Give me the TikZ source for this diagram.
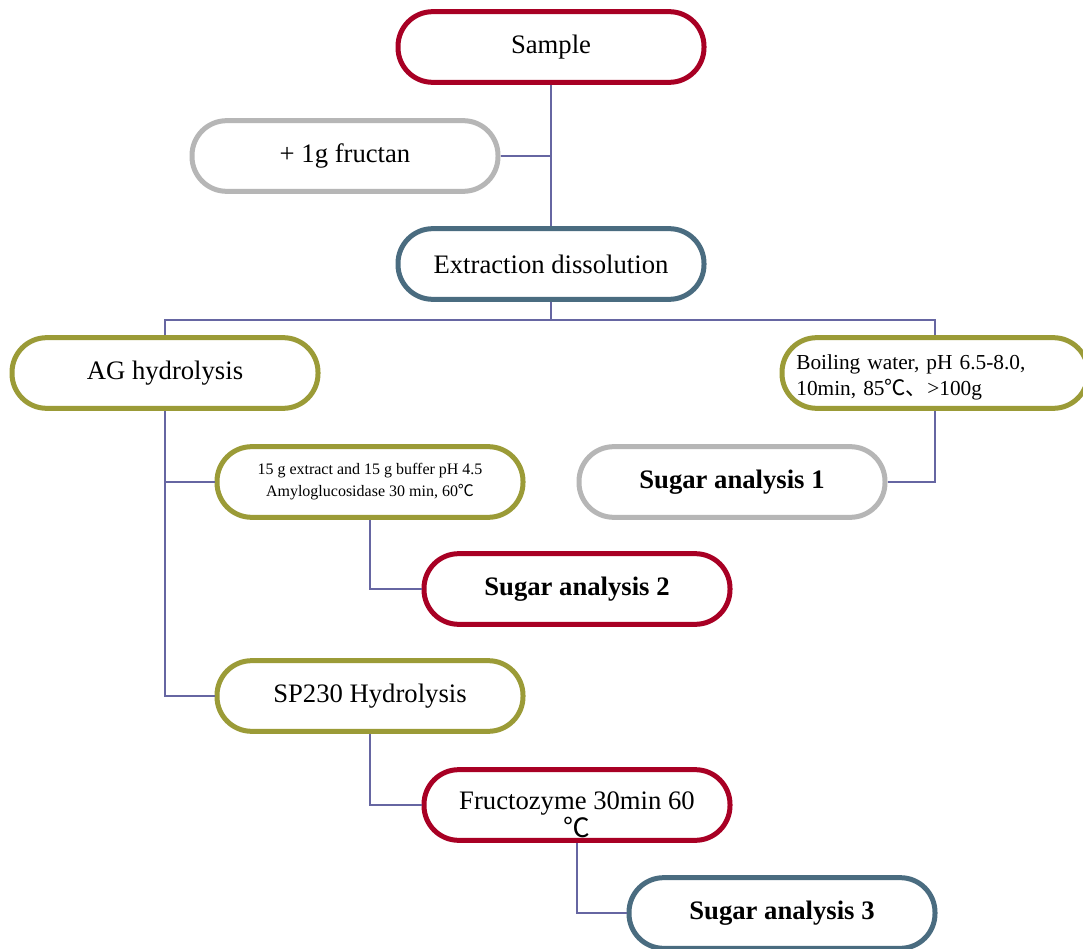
\documentclass[tikz,border=0pt]{standalone}
\usepackage{fontspec}
\setmainfont{Liberation Serif}
\newfontfamily\cjk{Noto Sans CJK SC}
\definecolor{cred}{RGB}{168,0,36}
\definecolor{cgray}{RGB}{182,182,182}
\definecolor{cteal}{RGB}{74,108,128}
\definecolor{colive}{RGB}{155,155,55}
\definecolor{cline}{RGB}{102,102,162}

\begin{document}
\begin{tikzpicture}[x=0.75pt,y=-0.75pt,
    pill/.style={draw,rectangle,rounded corners=26pt,line width=3.75pt,fill=white,
        minimum width=229.5pt,minimum height=53pt,inner sep=2pt,
        font=\fontsize{20}{26}\selectfont},
    link/.style={draw=cline,line width=1.1pt}]
    \useasboundingbox (0,0) rectangle (1083,949);
    \clip (0,0) rectangle (1083,949);
    % steps
    \node(smp) [pill,draw=cred] at (551,47) {Sample};
    \node(frc) [pill,draw=cgray] at (345,156) {+ 1g fructan};
    \node(ext) [pill,draw=cteal] at (551,264) {Extraction dissolution};
    \node(agh) [pill,draw=colive] at (165,373) {AG hydrolysis};
    \node(boil) [pill,draw=colive,text width=208pt,align=left,
        font=\fontsize{16}{19.5}\selectfont] at (935,373)
        {\raisebox{-7.5pt}[0pt][0pt]{\begin{tabular}{@{}l@{}}Boiling water, pH 6.5-8.0,\\
        10min, 85{\cjk ℃、}>100g\end{tabular}}};
    \node(ag1) [pill,draw=colive,align=center,
        font=\fontsize{12}{16.5}\selectfont] at (370,482)
        {15 g extract and 15 g buffer pH 4.5\\Amyloglucosidase 30 min, 60{\cjk ℃}};
    \node(su1) [pill,draw=cgray,font=\fontsize{20}{26}\selectfont\bfseries] at (732,482) {Sugar analysis 1};
    \node(su2) [pill,draw=cred,font=\fontsize{20}{26}\selectfont\bfseries] at (577,589) {Sugar analysis 2};
    \node(sp) [pill,draw=colive] at (370,696) {SP230 Hydrolysis};
    \node(fz) [pill,draw=cred,font=\fontsize{20}{19.5}\selectfont] at (577,805)
        {\raisebox{-15pt}[0pt][0pt]{\begin{tabular}{@{}c@{}}Fructozyme 30min 60\\{\cjk ℃}\end{tabular}}};
    \node(su3) [pill,draw=cteal,font=\fontsize{20}{26}\selectfont\bfseries] at (782,913) {Sugar analysis 3};
    % connectors
    \coordinate (hub) at (551,320);
    \draw[link] (smp) -- (ext);
    \draw[link] (frc.east) -- (frc.east -| smp);
    \draw[link] (ext) -- (hub);
    \draw[link] (agh) |- (hub) -| (boil);
    \draw[link] (agh) |- (ag1);
    \draw[link] (agh) |- (sp);
    \draw[link] (boil) |- (su1);
    \draw[link] (ag1) |- (su2);
    \draw[link] (sp) |- (fz);
    \draw[link] (fz) |- (su3);
\end{tikzpicture}
\end{document}
